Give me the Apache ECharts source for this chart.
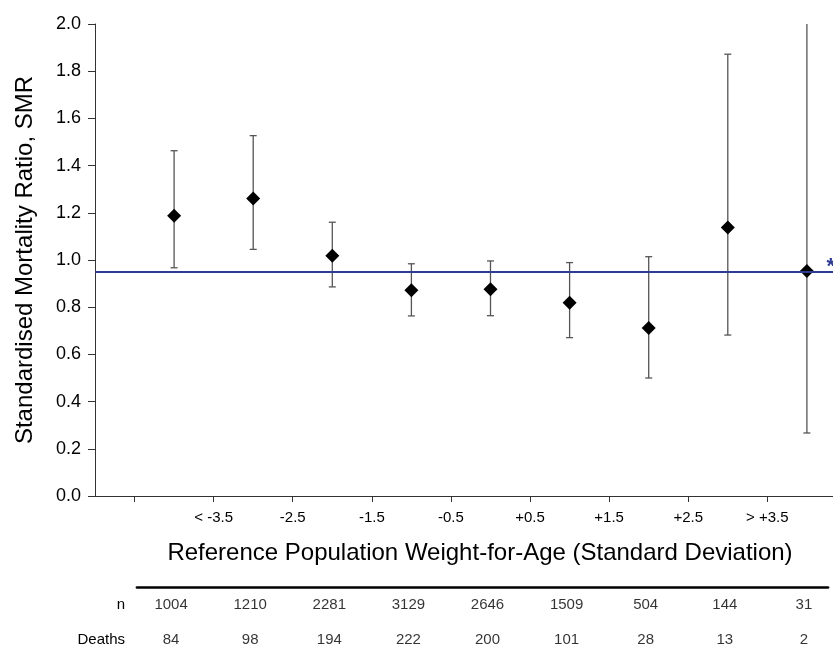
<!DOCTYPE html>
<html>
<head>
<meta charset="utf-8">
<script src="https://cdn.jsdelivr.net/npm/echarts@6/dist/echarts.min.js"></script>
<style>
html,body{margin:0;padding:0;background:#fff;}
#chart{width:833px;height:657px;}
</style>
</head>
<body>
<div id="chart"></div>
<script>
// ---- data ----
const groupPos = [-4, -3, -2, -1, 0, 1, 2, 3, 4];            // SD group centres
const smr      = [1.188, 1.261, 1.018, 0.872, 0.876, 0.819, 0.712, 1.138, 0.953];
const ciLow    = [0.967, 1.045, 0.886, 0.763, 0.764, 0.671, 0.500, 0.682, 0.267];
const ciHigh   = [1.463, 1.527, 1.160, 0.984, 0.996, 0.989, 1.014, 1.872, 2.400];
const tickValues = [-4.5, -3.5, -2.5, -1.5, -0.5, 0.5, 1.5, 2.5, 3.5];
const labelValues = [-3.5, -2.5, -1.5, -0.5, 0.5, 1.5, 2.5, 3.5];
const tickLabels = ['< -3.5', '-2.5', '-1.5', '-0.5', '+0.5', '+1.5', '+2.5', '> +3.5'];
const nCounts = [1004, 1210, 2281, 3129, 2646, 1509, 504, 144, 31];
const deaths  = [84, 98, 194, 222, 200, 101, 28, 13, 2];
const tableRows = ['n', 'Deaths'];
const overallSMR = 0.95;

// ---- layout ----
const W = 833;
const plotLeft = 95, plotRight = 0;
const xMin = -5, xMax = 4.33;
const yMax = 2.0;
const tableLeft = 137, tableRight = 5;
const pxPerUnit = (W - plotLeft - plotRight) / (xMax - xMin);
const tMin = xMin + (tableLeft - plotLeft) / pxPerUnit;
const tMax = xMax - (tableRight - plotRight) / pxPerUnit;

const font = 'Liberation Sans, Arial, Helvetica, sans-serif';
const chart = echarts.init(document.getElementById('chart'), null, {renderer: 'canvas'});

const errData = groupPos.map((x, i) => [x, ciLow[i], ciHigh[i]]);
const ptData = groupPos.map((x, i) => [x, smr[i]]);
const tableData = [];
groupPos.forEach((x, i) => {
  tableData.push({value: [x, 'n', nCounts[i]]});
  tableData.push({value: [x, 'Deaths', deaths[i]]});
});

const option = {
  backgroundColor: '#fff',
  animation: false,
  textStyle: {fontFamily: font, color: '#000'},
  grid: [
    {left: plotLeft, right: plotRight, top: 24, bottom: 161, containLabel: false},
    {left: tableLeft, right: tableRight, top: 587, height: 72, containLabel: false}
  ],
  xAxis: [
    {
      gridIndex: 0, type: 'value', min: xMin, max: xMax,
      splitLine: {show: false},
      axisLine: {show: true, onZero: false, lineStyle: {color: '#333', width: 1}},
      axisTick: {show: true, inside: false, length: 6, customValues: tickValues, lineStyle: {color: '#333'}},
      axisLabel: {
        show: true, customValues: labelValues, margin: 14,
        fontSize: 15, color: '#000', fontFamily: font,
        formatter: v => { const k = labelValues.findIndex(t => Math.abs(t - v) < 1e-6); return k >= 0 ? tickLabels[k] : ''; }
      },
      name: 'Reference Population Weight-for-Age (Standard Deviation)',
      nameLocation: 'middle', nameGap: 45,
      nameTextStyle: {fontSize: 24, color: '#000', fontFamily: font, padding: [0, 0, 0, 32]}
    },
    {
      gridIndex: 1, type: 'value', min: tMin, max: tMax, position: 'top',
      splitLine: {show: false},
      axisLine: {show: true, onZero: false, lineStyle: {color: '#000', width: 2.7}},
      axisTick: {show: false}, axisLabel: {show: false}
    }
  ],
  yAxis: [
    {
      gridIndex: 0, type: 'value', min: 0, max: yMax, interval: 0.2,
      splitLine: {show: false},
      axisLine: {show: true, onZero: false, lineStyle: {color: '#333', width: 1}},
      axisTick: {show: true, inside: false, length: 7, lineStyle: {color: '#333'}},
      axisLabel: {fontSize: 18, color: '#000', margin: 14, fontFamily: font, formatter: v => v.toFixed(1)},
      name: 'Standardised Mortality Ratio, SMR',
      nameLocation: 'middle', nameGap: 58, nameRotate: 90,
      nameTextStyle: {fontSize: 24, color: '#000', fontFamily: font}
    },
    {
      gridIndex: 1, type: 'category', data: tableRows, inverse: true,
      axisLine: {show: false}, axisTick: {show: false}, splitLine: {show: false},
      axisLabel: {fontSize: 15, color: '#000', margin: 12, fontFamily: font}
    }
  ],
  series: [
    {
      type: 'custom', xAxisIndex: 0, yAxisIndex: 0, z: 2,
      data: errData,
      renderItem: function (params, api) {
        const x = api.value(0), lo = api.value(1), hi = api.value(2);
        const hiC = Math.min(hi, yMax);
        const pLo = api.coord([x, lo]);
        const pHi = api.coord([x, hiC]);
        const cap = 3.5;
        const st = {stroke: '#555', lineWidth: 1.3};
        const children = [
          {type: 'line', shape: {x1: pLo[0], y1: pLo[1], x2: pHi[0], y2: pHi[1]}, style: st},
          {type: 'line', shape: {x1: pLo[0] - cap, y1: pLo[1], x2: pLo[0] + cap, y2: pLo[1]}, style: st}
        ];
        if (hi <= yMax) {
          children.push({type: 'line', shape: {x1: pHi[0] - cap, y1: pHi[1], x2: pHi[0] + cap, y2: pHi[1]}, style: st});
        }
        return {type: 'group', children: children};
      }
    },
    {
      type: 'scatter', xAxisIndex: 0, yAxisIndex: 0, z: 4,
      symbol: 'diamond', symbolSize: 14,
      itemStyle: {color: '#000', opacity: 1},
      data: ptData,
      markLine: {
        silent: true, symbol: ['none', 'none'],
        lineStyle: {color: '#2e3a94', width: 2, type: 'solid'},
        label: {show: true, position: 'insideEndTop', formatter: '*', color: '#2e3a94', fontSize: 22, fontWeight: 'bold', distance: 2, offset: [4, 8]},
        data: [{yAxis: overallSMR}]
      }
    },
    {
      type: 'scatter', xAxisIndex: 1, yAxisIndex: 1,
      symbolSize: 0.01, itemStyle: {color: 'transparent'},
      label: {show: true, position: 'inside', fontSize: 15, color: '#000', fontFamily: font,
        offset: [-3, 0], formatter: p => String(p.value[2])},
      data: tableData
    }
  ]
};
chart.setOption(option);
</script>
</body>
</html>
